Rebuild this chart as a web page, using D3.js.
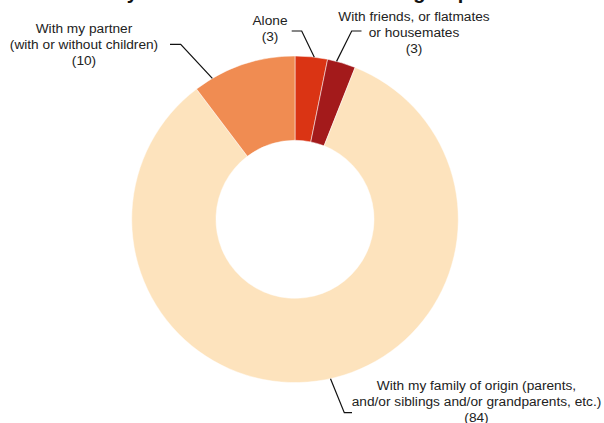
<!DOCTYPE html>
<html>
<head>
<meta charset="utf-8">
<script src="https://cdn.jsdelivr.net/npm/d3@7"></script>
<style>
  body { margin: 0; background: #fff; }
  svg { display: block; font-family: "Liberation Sans", Arial, Helvetica, sans-serif; }
</style>
</head>
<body>
<svg width="604" height="423"></svg>
<script>
// chart data
let categories = [
    'Alone',
    'With friends, or flatmates or housemates',
    'With my family of origin (parents, and/or siblings and/or grandparents, etc.)',
    'With my partner (with or without children)'
];
let labelLines = [
    ['Alone'],
    ['With friends, or flatmates', 'or housemates'],
    ['With my family of origin (parents,', 'and/or siblings and/or grandparents, etc.)'],
    ['With my partner', '(with or without children)']
];
let shares = [3.2, 2.8, 83.7, 10.3];
let colors = ['#da3414', '#a31a1b', '#fde3bd', '#f08c52'];
let titleText = 'My household situation in each group';

function main() {
    let svg = d3.select('svg'),
        cx = 295,
        cy = 219.3,
        outerR = 163.3,
        innerR = 79;

    // where each leader line leaves the ring and where its text sits
    let layout = [
        { t: 0.59, elbow: [301.7, 31], end: [291.7, 31], tx: 270, ty: 25 },
        { t: 0.32, elbow: [351.7, 31], end: [361.5, 31], tx: 414, ty: 20.5 },
        { t: 0.484, elbow: [344.3, 412.7], end: [352, 412.7], tx: 476.5, ty: 389.5 },
        { t: 0.18, elbow: [180.7, 44.3], end: [170, 44.3], tx: 84, ty: 33 }
    ];

    let colorScale = d3.scaleOrdinal().domain(categories).range(colors);
    let fmt = d3.format('.0f');

    let pie = d3.pie().sort(null).value((d) => d.value);
    let arcs = pie(categories.map((c, i) => ({ name: c, value: shares[i], i: i })));
    let arc = d3.arc().innerRadius(innerR).outerRadius(outerR);

    //Title (only its lower edge shows in the frame)
    svg.append('text')
        .attr('x', 290)
        .attr('y', -1.5)
        .attr('text-anchor', 'middle')
        .style('font-size', '20px')
        .style('font-weight', 'bold')
        .attr('fill', '#111')
        .text(titleText);

    let g = svg.append('g').attr('transform', 'translate(' + cx + ',' + cy + ')');

    g.selectAll('path')
        .data(arcs)
        .enter()
        .append('path')
        .attr('d', arc)
        .attr('fill', (d) => colorScale(d.data.name))
        .attr('stroke', '#fff')
        .attr('stroke-width', 0.5);

    //Leader lines
    arcs.forEach((d, i) => {
        let L = layout[i];
        let a = d.startAngle + (d.endAngle - d.startAngle) * L.t;
        let px = cx + outerR * Math.sin(a),
            py = cy - outerR * Math.cos(a);
        svg.append('polyline')
            .attr('points', [[px, py], L.elbow, L.end].map((p) => p.join(',')).join(' '))
            .attr('fill', 'none')
            .attr('stroke', '#111')
            .attr('stroke-width', 1.2);

        let lines = labelLines[i].concat(['(' + fmt(d.data.value) + ')']);
        let txt = svg.append('text')
            .attr('text-anchor', 'middle')
            .style('font-size', '13.7px')
            .attr('fill', '#222');
        lines.forEach((s, k) => {
            txt.append('tspan')
                .attr('x', L.tx)
                .attr('y', L.ty + k * 16)
                .text(s);
        });
    });
}

main();
</script>
</body>
</html>
